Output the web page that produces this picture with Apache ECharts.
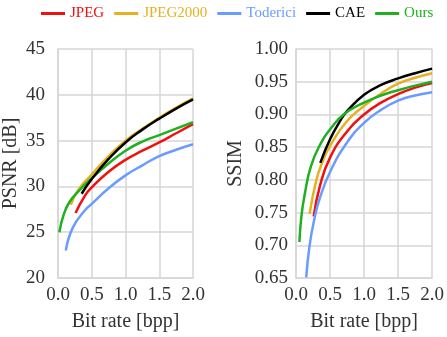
<!DOCTYPE html>
<html><head><meta charset="utf-8">
<script src="https://cdn.jsdelivr.net/npm/echarts@6/dist/echarts.min.js"></script>
<style>html,body{margin:0;padding:0;background:#fff}#c{width:447px;height:337px}</style>
</head><body><div id="c"></div>
<script>
var seriesNames = ['JPEG', 'JPEG2000', 'Toderici', 'CAE', 'Ours'];
var seriesColors = ['#f01010', '#e6b020', '#6a9cff', '#000000', '#1fb01f'];
var xTicks = ['0.0', '0.5', '1.0', '1.5', '2.0'];

// PSNR [dB] vs bit rate [bpp]
var psnrJPEG = [[0.26,27.1],[0.4,29.0],[0.5,29.9],[0.75,31.6],[1.0,32.9],[1.25,33.9],[1.5,34.8],[1.75,35.8],[2.0,36.8]];
var psnrJPEG2000 = [[0.19,28.0],[0.3,29.6],[0.5,31.3],[0.75,33.3],[1.0,35.0],[1.25,36.3],[1.5,37.5],[1.75,38.6],[2.0,39.6]];
var psnrToderici = [[0.115,23.0],[0.22,25.5],[0.4,27.4],[0.5,28.1],[0.75,29.8],[1.0,31.2],[1.25,32.3],[1.5,33.3],[1.75,34.0],[2.0,34.6]];
var psnrCAE = [[0.35,29.2],[0.5,30.8],[0.75,33.0],[1.0,34.8],[1.25,36.2],[1.5,37.4],[1.75,38.5],[2.0,39.5]];
var psnrOurs = [[0.02,25.0],[0.08,26.8],[0.17,28.3],[0.32,29.6],[0.5,30.9],[0.75,32.5],[1.0,33.9],[1.25,34.9],[1.5,35.6],[1.75,36.3],[2.0,37.0]];

// SSIM vs bit rate [bpp]
var ssimJPEG = [[0.26,0.744],[0.35,0.79],[0.5,0.834],[0.75,0.874],[1.0,0.90],[1.25,0.918],[1.5,0.931],[1.75,0.941],[2.0,0.948]];
var ssimJPEG2000 = [[0.2,0.748],[0.3,0.80],[0.4,0.83],[0.5,0.852],[0.75,0.89],[1.0,0.913],[1.25,0.932],[1.5,0.947],[1.75,0.956],[2.0,0.963]];
var ssimToderici = [[0.15,0.651],[0.2,0.70],[0.27,0.74],[0.35,0.772],[0.5,0.812],[0.75,0.857],[1.0,0.887],[1.25,0.907],[1.5,0.921],[1.75,0.929],[2.0,0.934]];
var ssimCAE = [[0.357,0.826],[0.5,0.862],[0.66,0.892],[0.75,0.905],[1.0,0.930],[1.25,0.945],[1.5,0.955],[1.75,0.963],[2.0,0.970]];
var ssimOurs = [[0.05,0.705],[0.08,0.745],[0.125,0.776],[0.22,0.821],[0.37,0.857],[0.5,0.877],[0.7,0.90],[1.0,0.918],[1.25,0.929],[1.5,0.937],[1.75,0.944],[2.0,0.950]];

var psnrData = [psnrJPEG, psnrJPEG2000, psnrToderici, psnrCAE, psnrOurs];
var ssimData = [ssimJPEG, ssimJPEG2000, ssimToderici, ssimCAE, ssimOurs];

var FONT = 'Liberation Serif';
var gridLine = {show:true, lineStyle:{color:'#d6d6d6', width:1.5}};

function xAxisCfg(idx){
  return {type:'value', gridIndex:idx, min:0, max:2, interval:0.5,
    name:'Bit rate [bpp]', nameLocation:'middle', nameGap:34,
    nameTextStyle:{fontFamily:FONT, fontSize:20, color:'#333'},
    axisLine:{show:true, lineStyle:{color:'#d6d6d6', width:1.5}}, axisTick:{show:false},
    splitLine:gridLine,
    axisLabel:{fontFamily:FONT, fontSize:19, color:'#333', margin:8, formatter:function(v){return v.toFixed(1);}}};
}
function yAxisCfg(idx, name, min, max, interval, dec, gap, margin){
  return {type:'value', gridIndex:idx, min:min, max:max, interval:interval,
    name:name, nameLocation:'middle', nameGap:gap, nameRotate:90,
    nameTextStyle:{fontFamily:FONT, fontSize:20, color:'#333'},
    axisLine:{show:true, lineStyle:{color:'#d6d6d6', width:1.5}}, axisTick:{show:false},
    splitLine:gridLine,
    axisLabel:{fontFamily:FONT, fontSize:19, color:'#333', margin:margin, formatter:function(v){return v.toFixed(dec);}}};
}

var series = [];
seriesNames.forEach(function(n,i){
  series.push({name:n, type:'line', xAxisIndex:0, yAxisIndex:0, data:psnrData[i], smooth:true, showSymbol:false,
    lineStyle:{color:seriesColors[i], width:2.5}, itemStyle:{color:seriesColors[i]}, z: (n==='CAE'?3:2)});
  series.push({name:n, type:'line', xAxisIndex:1, yAxisIndex:1, data:ssimData[i], smooth:true, showSymbol:false,
    lineStyle:{color:seriesColors[i], width:2.5}, itemStyle:{color:seriesColors[i]}});
});

var chart = echarts.init(document.getElementById('c'), null, {renderer:'canvas'});
chart.setOption({
  animation:false,
  legend:{top:1, left:36, itemWidth:24, itemHeight:3, itemGap:10, icon:'rect',
    textStyle:{fontFamily:FONT, fontSize:15},
    data: seriesNames.map(function(n,i){return {name:n, textStyle:{color:seriesColors[i]}};})},
  grid:[{left:54, top:49, width:139, height:231}, {left:296, top:49, width:138, height:231}],
  xAxis:[xAxisCfg(0), xAxisCfg(1)],
  yAxis:[yAxisCfg(0,'PSNR [dB]',20,45,5,0,37,13), yAxisCfg(1,'SSIM',0.65,1.0,0.05,2,50,8)],
  series:series
});
</script></body></html>
